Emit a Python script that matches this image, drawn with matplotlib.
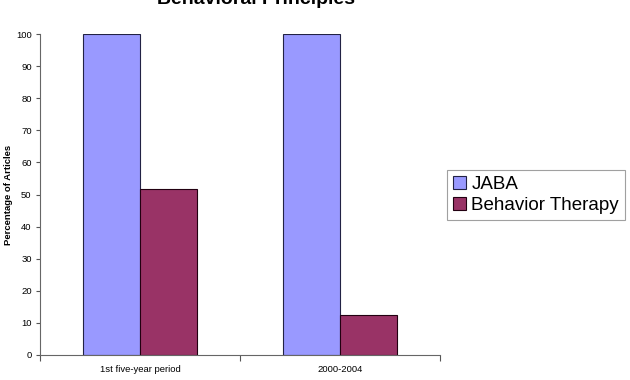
import numpy as np
import matplotlib.pyplot as plt

categories = ["1st five-year period", "2000-2004"]
jaba = [100, 100]
behavior_therapy = [51.7, 12.5]

plt.rcParams['font.family'] = ['Liberation Sans', 'DejaVu Sans']

fig = plt.figure(figsize=(6.3, 3.8), dpi=100)
ax = fig.add_axes([40 / 630, 1 - 355 / 380, 400 / 630, 321 / 380])

x = np.arange(len(categories))
w = 0.285
ax.bar(x - w / 2, jaba, w, color="#9999FF", edgecolor="#222244", linewidth=0.8, label="JABA")
ax.bar(x + w / 2, behavior_therapy, w, color="#993366", edgecolor="#220011", linewidth=0.8,
       label="Behavior Therapy")

ax.set_xlim(-0.5, 1.5)
ax.set_ylim(0, 100)
ax.set_yticks(range(0, 101, 10))
ax.set_xticks([-0.5, 0.5, 1.5])
ax.set_xticklabels([])
ax.set_xticks(x, minor=True)
ax.set_xticklabels(categories, minor=True)
ax.tick_params(axis="x", which="minor", length=0, pad=7, labelsize=6.8)
ax.tick_params(axis="x", which="major", length=4, color="#555555", direction="out")
ax.tick_params(axis="y", length=3, color="#555555", labelsize=6.8, pad=3)
for s in ["top", "right"]:
    ax.spines[s].set_visible(False)
for s in ["left", "bottom"]:
    ax.spines[s].set_color("#666666")
    ax.spines[s].set_linewidth(0.8)

ax.set_ylabel("Percentage of Articles", fontsize=6.8, fontweight="bold")
ax.yaxis.set_label_coords(-27 / 400, 0.5)

fig.text(256 / 630, 1 + 1 / 380, "Behavioral Principles", ha="center", va="center",
         fontsize=14, fontweight="bold")

leg = fig.legend(loc="center left", bbox_to_anchor=(447 / 630, 1 - 195 / 380), fontsize=13.5,
                 frameon=True, fancybox=False, edgecolor="#888888", handlelength=0.7,
                 handleheight=0.7, handletextpad=0.3, borderpad=0.3, labelspacing=0.25,
                 borderaxespad=0)
leg.get_frame().set_linewidth(0.8)

fig.savefig("out.png", dpi=100)
